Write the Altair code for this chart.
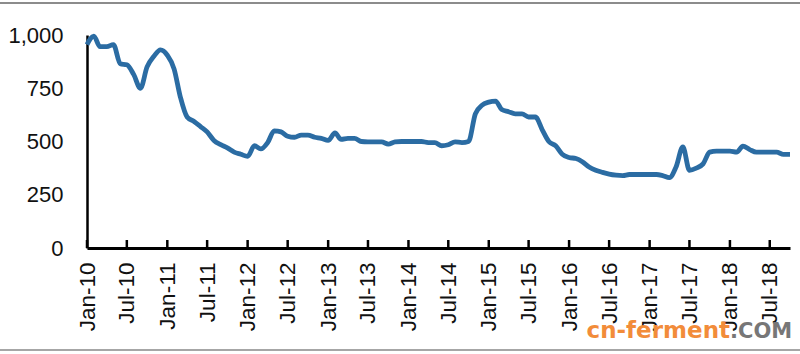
import altair as alt
import pandas as pd

start_month = "2010-01-01"
values = [
    955, 995, 945, 945, 955, 865, 860, 815, 750, 850, 900, 930,
    905, 840, 710, 615, 595, 570, 545, 505, 485, 470, 450, 440,
    430, 480, 465, 495, 550, 545, 525, 520, 530, 530, 520, 515,
    505, 540, 510, 515, 515, 500, 498, 498, 498, 488, 498, 500,
    500, 500, 500, 495, 495, 480, 485, 498, 495, 500, 630, 670,
    685, 690, 650, 640, 630, 630, 615, 615, 555, 500, 480, 440,
    425, 420, 405, 380, 365, 355, 347, 342, 340, 345, 345, 345,
    345, 345, 340, 330, 380, 475, 365, 375, 395, 450, 455, 455,
    455, 450, 478, 462, 450, 450, 450, 450, 440, 440,
]
tick_dates = ["2010-01-01", "2010-07-01", "2011-01-01", "2011-07-01", "2012-01-01",
              "2012-07-01", "2013-01-01", "2013-07-01", "2014-01-01", "2014-07-01",
              "2015-01-01", "2015-07-01", "2016-01-01", "2016-07-01", "2017-01-01",
              "2017-07-01", "2018-01-01", "2018-07-01"]
y_ticks = [0, 250, 500, 750, 1000]

months = pd.date_range(start_month, periods=len(values), freq="MS")
df = pd.DataFrame({"date": months.strftime("%Y-%m-%d"), "value": values})
ticks_df = pd.DataFrame({"date": tick_dates})

W, H = 703, 213
FONT = "Liberation Sans"

xscale = alt.Scale(type="utc", domain=["2010-01-01", "2018-10-01"])
tick_vals = [alt.DateTime(year=int(d[:4]), month=int(d[5:7]), date=1, utc=True) for d in tick_dates]

line = alt.Chart(df).mark_line(
    color="#2B6CA3", strokeWidth=4.8, interpolate="monotone", clip=False
).encode(
    x=alt.X("date:T", scale=xscale, title=None,
            axis=alt.Axis(values=tick_vals, labelExpr="utcFormat(datum.value, '%b-%y')",
                          labelAngle=270, labelFont=FONT, labelFontSize=22.5,
                          labelColor="#111", labelPadding=14, ticks=False,
                          domainColor="#000", domainWidth=3, grid=False,
                          labelOverlap=False, labelFlush=False)),
    y=alt.Y("value:Q", scale=alt.Scale(domain=[0, 1000], nice=False), title=None,
            axis=alt.Axis(values=y_ticks, format=",d", labelFont=FONT, labelFontSize=22,
                          labelColor="#111", labelPadding=24, ticks=False,
                          domainColor="#000", domainWidth=2.5, grid=False)),
)

tick_marks = alt.Chart(ticks_df).mark_rule(color="#000", strokeWidth=2.5).encode(
    x=alt.X("date:T", scale=xscale),
    y=alt.value(H - 8),
    y2=alt.value(H),
)

frame_top = alt.Chart(ticks_df.head(1)).mark_rule(color="#666", strokeWidth=1.5).encode(
    x=alt.value(-87), x2=alt.value(713), y=alt.value(-32))
frame_bot = alt.Chart(ticks_df.head(1)).mark_rule(color="#888", strokeWidth=1.5).encode(
    x=alt.value(-87), x2=alt.value(713), y=alt.value(315))

wm1 = alt.Chart(ticks_df.head(1)).mark_text(
    text="cn-ferment", font="DejaVu Sans", fontWeight="bold", fontSize=23,
    color="#F28C3A", align="right", baseline="alphabetic"
).encode(x=alt.value(643), y=alt.value(303))
wm2 = alt.Chart(ticks_df.head(1)).mark_text(
    text=".COM", font="DejaVu Sans", fontWeight="bold", fontSize=21,
    color="#777777", align="left", baseline="alphabetic"
).encode(x=alt.value(643), y=alt.value(303))

chart = alt.layer(line, tick_marks, frame_top, frame_bot, wm1, wm2).properties(
    width=W, height=H,
    autosize=alt.AutoSizeParams(type="none"),
    padding={"left": 87, "top": 35, "right": 10, "bottom": 106},
    background="white",
).configure_view(stroke=None)

chart.save("out.html", embed_options={"renderer": "svg", "actions": False})
